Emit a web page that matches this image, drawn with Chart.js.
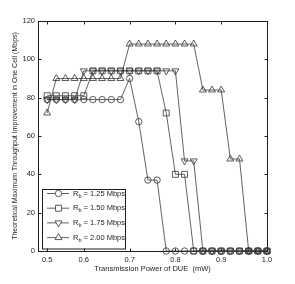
<!DOCTYPE html>
<html>
<head>
<meta charset="utf-8">
<script src="https://cdn.jsdelivr.net/npm/chart.js@4.4.1/dist/chart.umd.min.js"></script>
<style>
  html, body { margin: 0; padding: 0; background: #fff; }
  #wrap { width: 295px; height: 284px; }
</style>
</head>
<body>
<div id="wrap"><canvas id="chartPower"></canvas></div>
<script>
'use strict'

// transmission power of DUE (mW)
var power = [0.52, 0.54, 0.56, 0.58, 0.60, 0.62, 0.64, 0.66, 0.68, 0.70, 0.72, 0.74, 0.76,
             0.78, 0.80, 0.82, 0.84, 0.86, 0.88, 0.90, 0.92, 0.94, 0.96, 0.98, 1.00];

// throughput improvement (Mbps) for each Rb
var rate125 = [79, 79, 79, 79, 79, 79, 79, 79, 79, 90, 67.5, 37, 37, 0, 0, 0, 0, 0, 0, 0, 0, 0, 0, 0, 0];
var rate150 = [81, 81, 81, 81, 81, 94, 94, 94, 94, 94, 94, 94, 94, 72, 40, 40, 0, 0, 0, 0, 0, 0, 0, 0, 0];
var rate175 = [79, 79, 79, 79, 94, 94, 94, 94, 94, 94, 94, 94, 94, 94, 94, 47, 47, 0, 0, 0, 0, 0, 0, 0, 0];
var rate200 = [72, 90, 90, 90, 90, 90, 90, 90, 90, 108, 108, 108, 108, 108, 108, 108, 108, 84, 84, 84, 48, 48, 0, 0, 0];

var rbNames = ['1.25', '1.50', '1.75', '2.00'];
var xTicks = [0.52, 0.6, 0.7, 0.8, 0.9, 1.0];
var xTickLabels = ['0.5', '0.6', '0.7', '0.8', '0.9', '1.0'];
var yTicks = [0, 20, 40, 60, 80, 100, 120];

var FONT = 'Liberation Sans, Arial, sans-serif';
var INK = '#1e1e1e';

function toPoints(arr) {
    return arr.map(function (v, i) { return { x: power[i], y: v }; });
}

function makeSet(idx, arr, style, rot, radius) {
    return {
        label: rbNames[idx],
        data: toPoints(arr),
        borderColor: '#3a3a3a',
        borderWidth: 0.8,
        pointStyle: style,
        rotation: rot,
        pointRadius: radius,
        pointBorderColor: '#333',
        pointBorderWidth: 0.8,
        pointBackgroundColor: 'rgba(0,0,0,0)',
        tension: 0,
        clip: false
    };
}

// box round the plot with inward ticks
var framePlugin = {
    id: 'frame',
    beforeDatasetsDraw: function (chart) {
        var ctx = chart.ctx, a = chart.chartArea;
        var xs = chart.scales.x, ys = chart.scales.y;
        var L = Math.round(a.left) + 0.5, R = Math.round(a.right) + 0.5;
        var T = Math.round(a.top) + 0.5, B = Math.round(a.bottom) + 0.5;
        ctx.save();
        ctx.strokeStyle = INK;
        ctx.lineWidth = 1;
        ctx.strokeRect(L, T, R - L, B - T);
        ctx.beginPath();
        xs.ticks.forEach(function (t) {
            var px = Math.round(xs.getPixelForValue(t.value)) + 0.5;
            ctx.moveTo(px, B); ctx.lineTo(px, B - 3);
            ctx.moveTo(px, T); ctx.lineTo(px, T + 3);
        });
        ys.ticks.forEach(function (t) {
            var py = Math.round(ys.getPixelForValue(t.value)) + 0.5;
            ctx.moveTo(L, py); ctx.lineTo(L + 3, py);
            ctx.moveTo(R, py); ctx.lineTo(R - 3, py);
        });
        ctx.stroke();
        ctx.restore();
    }
};

// legend with subscript b
var legendPlugin = {
    id: 'rbLegend',
    afterDraw: function (chart) {
        var ctx = chart.ctx, a = chart.chartArea;
        var rowH = 14.7, boxW = 83, boxH = 59.5;
        var bx = a.left + 4, by = a.bottom - 3 - boxH;
        ctx.save();
        ctx.fillStyle = '#fff';
        ctx.fillRect(bx, by, boxW, boxH);
        ctx.strokeStyle = INK;
        ctx.lineWidth = 1;
        ctx.strokeRect(Math.round(bx) + 0.5, Math.round(by) + 0.5, boxW, boxH);
        chart.data.datasets.forEach(function (ds, i) {
            var cy = by + 5 + i * rowH;
            ctx.strokeStyle = ds.borderColor;
            ctx.lineWidth = ds.borderWidth;
            ctx.beginPath();
            ctx.moveTo(bx + 5, cy); ctx.lineTo(bx + 27, cy);
            ctx.stroke();
            ctx.strokeStyle = ds.pointBorderColor;
            ctx.lineWidth = ds.pointBorderWidth;
            ctx.fillStyle = '#fff';
            Chart.helpers.drawPoint(ctx, {
                pointStyle: ds.pointStyle, rotation: ds.rotation,
                radius: ds.pointRadius, borderWidth: ds.pointBorderWidth
            }, bx + 16.5, cy);
            ctx.fillStyle = INK;
            ctx.textBaseline = 'middle';
            ctx.textAlign = 'left';
            var tx = bx + 31;
            ctx.font = '7.5px ' + FONT;
            ctx.fillText('R', tx, cy);
            tx += ctx.measureText('R').width;
            ctx.font = '5.5px ' + FONT;
            ctx.fillText('b', tx, cy + 2.5);
            tx += ctx.measureText('b').width;
            ctx.font = '7.5px ' + FONT;
            ctx.fillText(' = ' + ds.label + ' Mbps', tx, cy);
        });
        ctx.restore();
    }
};

var ctx = document.getElementById('chartPower');
var chartPower = new Chart(ctx, {
    type: 'line',
    data: {
        datasets: [
            makeSet(0, rate125, 'circle', 0, 3.2),
            makeSet(1, rate150, 'rect', 0, 4.2),
            makeSet(2, rate175, 'triangle', 180, 4),
            makeSet(3, rate200, 'triangle', 0, 4)
        ]
    },
    options: {
        responsive: true,
        maintainAspectRatio: false,
        animation: false,
        events: [],
        layout: { padding: { top: 21, right: 28, left: 0, bottom: 0 } },
        plugins: {
            legend: { display: false },
            tooltip: { enabled: false }
        },
        scales: {
            x: {
                type: 'linear',
                min: 0.5,
                max: 1.0,
                grid: { display: false, drawTicks: false, tickLength: 0 },
                border: { display: false },
                afterBuildTicks: function (scale) {
                    scale.ticks = xTicks.map(function (v) { return { value: v }; });
                },
                afterFit: function (scale) { scale.height = 33; },
                ticks: {
                    autoSkip: false,
                    maxRotation: 0,
                    padding: 4,
                    color: INK,
                    font: { family: FONT, size: 7.5 },
                    callback: function (v, i) { return xTickLabels[i]; }
                },
                title: {
                    display: true,
                    text: 'Transmission Power of DUE  (mW)',
                    color: INK,
                    font: { family: FONT, size: 7.5 },
                    padding: { top: 0, bottom: 11 }
                }
            },
            y: {
                min: 0,
                max: 120,
                grid: { display: false, drawTicks: false, tickLength: 0 },
                border: { display: false },
                afterBuildTicks: function (scale) {
                    scale.ticks = yTicks.map(function (v) { return { value: v }; });
                },
                afterFit: function (scale) { scale.width = 38; },
                ticks: {
                    padding: 3,
                    color: INK,
                    font: { family: FONT, size: 7.5 }
                },
                title: {
                    display: true,
                    text: 'Theoretical Maximum Throughput Improvement in One Cell (Mbps)',
                    color: INK,
                    font: { family: FONT, size: 7 },
                    padding: { top: 11, bottom: 0 }
                }
            }
        }
    },
    plugins: [framePlugin, legendPlugin]
});
</script>
</body>
</html>
